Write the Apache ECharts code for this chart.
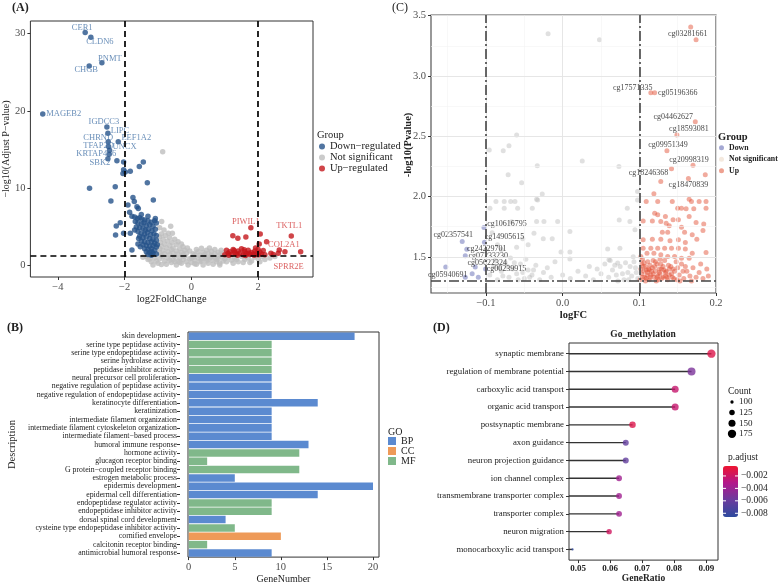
<!DOCTYPE html>
<html>
<head>
<meta charset="utf-8">
<script src="https://cdn.jsdelivr.net/npm/echarts@6/dist/echarts.min.js"></script>
<style>
html, body { margin: 0; padding: 0; background: #fff; }
#chart { width: 778px; height: 585px; }
</style>
</head>
<body>
<div id="chart"></div>
<script>
// ---------- (A) volcano: log2FoldChange vs -log10(adj p) ----------
const aNS = [[-0.86,14.7],[-0.89,5.7],[-0.62,5.1],[-0.95,4.9],[-0.82,4.6],[-0.69,4.2],[-0.57,4.2],[-0.9,4.1],[-0.78,3.9],[-0.95,3.7],
  [-0.65,3.6],[-0.5,3.4],[-0.85,3.4],[-0.72,3.2],[-0.4,3.1],[-0.58,3.0],[-0.93,3.0],[-0.3,2.8],[-0.8,2.8],[-0.45,2.7],
  [-0.65,2.6],[-0.25,2.45],[-0.9,2.5],[-0.55,2.3],[-0.12,2.3],[-0.75,2.3],[-0.35,2.2],[-0.95,2.2],[-0.6,2.05],[-0.2,2.0],
  [-0.85,1.95],[-0.45,1.9],[-0.05,1.9],[-0.7,1.8],[-0.3,1.75],[-0.95,1.7],[-0.55,1.65],[-0.15,1.6],[-0.8,1.55],[-0.4,1.5],
  [0.05,1.55],[-0.65,1.4],[-0.25,1.4],[-0.9,1.35],[0.3,2.24],[0.54,2.3],[0.89,2.0],[0.15,2.1],[0.45,2.0],[0.7,2.1],
  [0.6,1.85],[0.2,1.8],[0.35,1.7],[0.8,1.75],[0.95,1.6],[0.5,1.6],[0.1,1.45],[0.4,1.45],[0.7,1.5],[0.25,1.35],
  [0.85,1.4],[0.6,1.35],[-1.45,1.1],[-1.3,0.8],[-1.35,1.2],[-1.2,0.5],[-1.1,1.0],[-1.0,0.3],[-0.95,0.9],[-0.85,1.15],
  [-0.8,0.6],[-0.75,0.2],[-0.7,1.0],[-0.6,0.4],[-0.55,0.8],[-0.5,1.2],[-0.45,0.1],[-0.4,0.6],[-0.35,1.0],[-0.3,0.3],
  [-0.25,0.8],[-0.2,1.2],[-0.15,0.5],[-0.1,0.1],[-0.05,0.9],[0.0,0.4],[0.05,1.1],[0.1,0.7],[0.15,0.2],[0.2,1.0],
  [0.25,0.5],[0.3,0.9],[0.35,0.1],[0.4,1.2],[0.45,0.6],[0.5,0.3],[0.55,1.0],[0.6,0.7],[0.65,0.2],[0.7,1.1],
  [0.75,0.5],[0.8,0.9],[0.85,0.3],[0.9,1.2],[0.95,0.6],[1.0,0.9],[1.1,1.1],[1.2,0.7],[1.3,1.0],[1.4,0.5],
  [1.5,1.2],[1.6,0.8],[1.7,1.0],[1.8,0.6],[1.9,1.1],[2.0,0.9],[2.1,1.2],[2.2,0.8],[2.35,1.0],[2.5,1.2],
  [-1.15,0.1],[-0.9,0.15],[-0.65,0.7],[-0.35,0.45],[0.1,0.25],[0.3,0.6],[0.6,1.2],[0.85,0.1],[1.25,0.3],[1.55,0.4],
  [-1.25,0.9],[-1.05,0.6],[-0.5,0.5],[0.0,1.0],[0.45,0.9],[0.75,0.8],[1.05,0.5],[1.35,0.8],[1.75,0.4],[2.05,0.5]];
const aDown = [[-2.23,13.56],[-2.03,13.4],[-1.44,13.4],[-1.56,12.8],[-2.03,12.4],[-2.05,11.9],[-1.98,12.1],[-1.83,12.2],[-1.32,10.7],[-3.05,10.0],
  [-2.28,10.2],[-1.75,8.8],[-1.71,8.3],[-2.41,8.35],[-1.14,8.48],[-1.9,7.83],[-1.63,7.6],[-1.59,7.4],[-1.85,6.9],[-1.78,6.4],
  [-2.13,5.55],[-2.25,5.12],[-2.27,3.96],[-2.03,4.18],[-1.83,4.18],[-1.78,2.03],[-1.53,2.46],[-1.19,1.81],
  [-1.7,6.3],[-1.62,6.1],[-1.55,6.2],[-1.48,6.0],[-1.4,5.9],[-1.3,5.8],[-1.2,5.6],[-1.1,5.8],[-1.05,5.5],[-1.68,5.7],
  [-1.6,5.5],[-1.5,5.4],[-1.42,5.5],[-1.35,5.2],[-1.25,5.3],[-1.15,5.1],[-1.65,5.0],[-1.55,4.9],[-1.45,4.8],[-1.38,4.6],
  [-1.28,4.7],[-1.18,4.5],[-1.08,4.7],[-1.6,4.4],[-1.5,4.2],[-1.4,4.1],[-1.32,4.3],[-1.22,4.0],[-1.12,4.1],[-1.05,3.9],
  [-1.55,3.8],[-1.45,3.6],[-1.35,3.7],[-1.25,3.5],[-1.15,3.4],[-1.05,3.3],[-1.5,3.2],[-1.4,3.1],[-1.3,3.0],[-1.2,3.1],
  [-1.1,2.9],[-1.45,2.7],[-1.35,2.6],[-1.25,2.5],[-1.15,2.6],[-1.05,2.4],[-1.4,2.2],[-1.3,2.1],[-1.2,2.2],[-1.1,2.0],
  [-1.35,1.8],[-1.25,1.7],[-1.15,1.6],[-1.05,1.5],[-1.3,1.45],[-1.2,1.35],[-1.6,2.8],[-1.58,3.5],[-1.7,4.6],[-1.02,2.7],
  [-1.08,6.1],[-1.3,6.4],[-1.5,6.6]];
const aUp = [[1.24,3.87],[1.39,3.53],[1.78,4.9],[2.06,4.09],[2.03,2.8],[2.25,3.1],[2.38,1.6],[2.6,1.6],[2.63,2.03],[1.05,2.0],
  [1.1,1.6],[1.15,1.8],[1.2,1.45],[1.25,2.1],[1.3,1.7],[1.35,1.5],[1.4,1.9],[1.45,1.6],[1.5,2.2],[1.55,1.4],
  [1.6,1.8],[1.65,1.55],[1.7,2.0],[1.75,1.45],[1.8,1.7],[1.85,1.5],[1.9,1.9],[1.95,1.6],[2.0,1.4],[2.0,2.1],
  [2.05,1.75],[2.1,1.5],[2.15,1.95],[1.12,1.35],[1.38,1.35],[1.62,1.32],[1.88,1.35],[2.2,1.4],[2.45,1.45],[1.0,1.4],
  [1.28,1.95],[1.58,2.05],[1.72,1.6],[1.92,2.3]];
const aDownGenes = ['CER1','CLDN6','PNMT','CHGB','MAGEB2','IGDCC3','LIPC','CHRND','EEF1A2','TFAP2D','UNCX','KRTAP4\u22126','SBK2'];
const aDownGenePts = [[-3.18,30.1],[-3.01,29.5],[-2.68,26.2],[-3.06,25.8],[-4.45,19.6],[-2.53,17.9],[-2.5,17.1],[-2.49,16.0],[-2.19,16.0],[-2.48,15.4],[-2.45,14.9],[-2.46,14.4],[-2.5,13.8]];
const aUpGenes = ['PIWIL1','TKTL1','COL2A1','SPRR2E'];
const aUpGenePts = [[1.63,3.7],[2.99,3.83],[2.8,1.81],[3.27,1.81]];
const aXTicks = [-4, -2, 0, 2];
const aYTicks = [0, 10, 20, 30];

// ---------- (B) GO bars ----------
const bTerms = ['skin development','serine type peptidase activity','serine type endopeptidase activity','serine hydrolase activity',
  'peptidase inhibitor activity','neural precursor cell proliferation','negative regulation of peptidase activity',
  'negative regulation of endopeptidase activity','keratinocyte differentiation','keratinization','intermediate filament organization',
  'intermediate filament cytoskeleton organization','intermediate filament\u2212based process','humoral immune response','hormone activity',
  'glucagon receptor binding','G protein\u2212coupled receptor binding','estrogen metabolic process','epidermis development',
  'epidermal cell differentiation','endopeptidase regulator activity','endopeptidase inhibitor activity','dorsal spinal cord development',
  'cysteine type endopeptidase inhibitor activity','cornified envelope','calcitonin receptor binding','antimicrobial humoral response'];
const bGenes = [18,9,9,9,9,9,9,9,14,9,9,9,9,13,12,2,12,5,20,14,9,9,4,5,10,2,9];
const bGO = ['BP','MF','MF','MF','MF','BP','BP','BP','BP','BP','BP','BP','BP','BP','MF','MF','MF','BP','BP','BP','MF','MF','BP','MF','CC','MF','BP'];
const bXTicks = [0, 5, 10, 15, 20];

// ---------- (C) methylation volcano: logFC vs -log10(P) ----------
const cNS = [[-0.06,2.51],[-0.0957,2.386],[-0.0775,2.38],[-0.07,2.42],[-0.0331,2.256],[-0.0711,2.18],[-0.0535,2.115],[-0.0266,2.02],[-0.034,1.978],[-0.0622,1.958],
  [-0.0678,1.958],[-0.0762,1.958],[-0.087,1.958],[-0.0948,1.903],[-0.0762,1.903],[-0.0587,1.903],[-0.0396,1.903],[-0.0326,1.972],[-0.0244,1.792],[-0.034,1.792],
  [-0.0065,1.792],[-0.0374,1.696],[-0.0253,1.649],[-0.0136,1.649],[0.0095,1.71],[0.0256,2.295],[-0.0022,1.539],[0.0095,1.539],[0.0587,1.564],[0.0747,1.572],
  [0.0738,1.806],[0.0877,1.792],[0.0943,1.724],[0.0843,1.903],[0.0977,2.041],[0.0977,1.972],[0.0734,2.248],[0.0348,1.42],[0.0095,1.481],[0.0604,1.475],
  [0.0718,1.448],[-0.019,3.35],[0.048,3.30],[-0.0665,1.79],[-0.045,1.6],[-0.06,1.58],[-0.08,1.56],[-0.052,1.65],[-0.092,1.7],[-0.085,1.6],
  [-0.095,1.35],[-0.09,1.42],[-0.085,1.31],[-0.08,1.38],[-0.075,1.45],[-0.07,1.33],[-0.065,1.4],[-0.06,1.36],[-0.055,1.44],[-0.05,1.32],
  [-0.045,1.39],[-0.04,1.35],[-0.035,1.43],[-0.03,1.31],[-0.025,1.37],[-0.02,1.41],[-0.015,1.33],[-0.01,1.46],[0.0,1.35],[0.01,1.32],
  [0.02,1.38],[0.03,1.34],[0.04,1.31],[0.045,1.4],[0.05,1.36],[0.055,1.44],[0.06,1.33],[0.065,1.39],[0.07,1.35],[0.075,1.42],
  [0.08,1.31],[0.085,1.37],[0.09,1.34],[0.095,1.41],[0.098,1.32],[-0.088,1.47],[-0.068,1.49],[-0.048,1.48],[0.062,1.47],[0.082,1.45],
  [0.092,1.5],[-0.078,1.34],[-0.058,1.31],[-0.038,1.39],[0.072,1.3],[0.088,1.42],[0.096,1.37],[-0.072,1.42],[-0.052,1.37],[0.068,1.43],
  [0.078,1.36],[0.086,1.31],[0.093,1.46],[-0.083,1.41],[-0.063,1.45],[-0.043,1.33]];
const cDown = [[-0.127,1.33],[-0.11,1.33],[-0.118,1.36]];
const cUp = [[0.174,3.3],[0.186,2.18],[0.128,2.124],[0.119,2.022],[0.109,1.959],[0.124,1.959],[0.143,1.959],[0.165,1.978],[0.168,1.959],[0.178,1.959],
  [0.187,1.959],[0.15,1.903],[0.155,1.903],[0.161,1.898],[0.171,1.898],[0.187,1.903],[0.12,1.862],[0.124,1.848],[0.134,1.834],[0.105,1.798],
  [0.117,1.798],[0.128,1.793],[0.135,1.779],[0.144,1.807],[0.151,1.807],[0.139,1.757],[0.155,1.746],[0.165,1.834],[0.174,1.785],[0.184,1.773],
  [0.13,1.704],[0.137,1.704],[0.159,1.704],[0.183,1.718],[0.105,1.641],[0.117,1.646],[0.128,1.646],[0.14,1.633],[0.151,1.641],[0.16,1.619],
  [0.169,1.682],[0.175,1.646],[0.187,1.536],[0.105,1.572],[0.115,1.572],[0.124,1.572],[0.133,1.572],[0.142,1.572],[0.151,1.572],[0.16,1.564],
  [0.169,1.53],[0.11,1.53],[0.119,1.53],[0.128,1.517],[0.137,1.503],[0.146,1.503],[0.155,1.489],[0.165,1.489],[0.102,1.503],
  [0.101,1.31],[0.103,1.36],[0.105,1.42],[0.107,1.33],[0.109,1.39],[0.111,1.46],[0.113,1.31],[0.115,1.35],[0.117,1.41],[0.119,1.33],
  [0.121,1.38],[0.123,1.44],[0.125,1.31],[0.127,1.36],[0.129,1.4],[0.131,1.33],[0.133,1.47],[0.135,1.38],[0.137,1.31],[0.139,1.35],
  [0.141,1.42],[0.143,1.33],[0.146,1.38],[0.149,1.31],[0.152,1.35],[0.155,1.44],[0.158,1.32],[0.162,1.38],[0.166,1.34],[0.17,1.41],
  [0.174,1.33],[0.178,1.37],[0.183,1.32],[0.188,1.4],[0.104,1.48],[0.112,1.4],[0.118,1.47],[0.124,1.34],[0.128,1.44],[0.134,1.34],
  [0.108,1.3],[0.116,1.38],[0.122,1.3],[0.132,1.39],[0.106,1.45],[0.114,1.43],[0.102,1.4],[0.11,1.35],[0.126,1.4],[0.138,1.43],
  [0.144,1.4],[0.148,1.46],[0.16,1.42],[0.168,1.3],[0.18,1.44],[0.19,1.34],[0.104,1.33],[0.106,1.38],[0.109,1.32],[0.111,1.37],
  [0.114,1.33],[0.118,1.36],[0.12,1.42],[0.123,1.33],[0.126,1.37],[0.129,1.32],[0.131,1.42],[0.134,1.37],[0.136,1.33],[0.139,1.4],
  [0.142,1.36],[0.145,1.32],[0.15,1.41],[0.153,1.3],[0.157,1.38],[0.103,1.44],[0.108,1.42],[0.113,1.39],[0.121,1.46],[0.127,1.48]];
const cDownIds = ['cg10616795','cg02357541','cg14905615','cg24229701','cg07233230','cg05622324','cg00239915','cg05940691'];
const cDownIdPts = [[-0.1026,1.743],[-0.131,1.627],[-0.102,1.62],[-0.125,1.563],[-0.127,1.508],[-0.114,1.415],[-0.1005,1.398],[-0.1525,1.415]];
const cUpIds = ['cg03281661','cg17571335','cg05196366','cg04462627','cg18593081','cg09951349','cg20998319','cg18246368','cg18470839'];
const cUpIdPts = [[0.167,3.406],[0.115,2.86],[0.12,2.86],[0.173,2.62],[0.149,2.51],[0.136,2.38],[0.17,2.26],[0.142,2.23],[0.164,2.15]];
const cXTicks = [-0.1, 0, 0.1, 0.2];
const cYTicks = [1.5, 2.0, 2.5, 3.0, 3.5];

// ---------- (D) Go_methylation lollipop ----------
const dTerms = ['synaptic membrane','regulation of membrane potential','carboxylic acid transport','organic acid transport',
  'postsynaptic membrane','axon guidance','neuron projection guidance','ion channel complex',
  'transmembrane transporter complex','transporter complex','neuron migration','monocarboxylic acid transport'];
const dRatio = [0.0916,0.0854,0.0803,0.0803,0.067,0.0649,0.0649,0.0628,0.0628,0.0628,0.0597,0.0483];
const dCount = [176,168,150,150,140,132,132,130,130,130,124,92];
const dPadj = [-0.0012,-0.0052,-0.0022,-0.0022,-0.0012,-0.0062,-0.0062,-0.0038,-0.0038,-0.0038,-0.0018,-0.0085];
const dXTicks = [0.05, 0.06, 0.07, 0.08, 0.09];
const countBreaks = [100, 125, 150, 175];
const padjBreaks = [-0.002, -0.004, -0.006, -0.008];

// ---------- layout / style ----------
const serif = '"Liberation Serif", "DejaVu Serif", serif';
const minus = s => String(s).replace('-', '\u2212');
const aBlue = '#26528A', aRed = '#C4161C', aGrey = '#BEBEBE';
const cDownCol = 'rgba(74,85,168,0.55)', cNSCol = 'rgba(185,185,185,0.55)', cUpCol = 'rgba(226,80,52,0.6)';
const goColor = { BP: '#5B8AD0', CC: '#EE9A58', MF: '#80B88A' };
const dRange = [0.04719, 0.09366];
const padjMin = -0.0086, padjMax = -0.0004;
const cbar = { left: 723, top: 466, w: 15, h: 51 };
const dotSize = c => Math.sqrt(Math.max(1, 11 + 0.773 * (c - 100)));

const aShift = { CER1: [-3, -5], CLDN6: [9, 5], PNMT: [8, -4], CHGB: [-3, 4], MAGEB2: [21, 0], IGDCC3: [-3, -5],
  LIPC: [12, -3], CHRND: [-10, -4], EEF1A2: [18, -4], TFAP2D: [-10, -1], UNCX: [15, -4], 'KRTAP4\u22126': [-13, 0], SBK2: [-8, 4],
  PIWIL1: [0, -15], TKTL1: [-2, -10], COL2A1: [-1, -7], SPRR2E: [-12, 15] };
const cShift = { cg10616795: [23, -4], cg02357541: [-9, -7], cg14905615: [20, -5], cg24229701: [20, 0], cg07233230: [23, 0],
  cg05622324: [12, -4], cg00239915: [21, 0], cg05940691: [2, 8], cg03281661: [-3, 7], cg17571335: [-18, -5],
  cg05196366: [23, 0], cg04462627: [-22, -5], cg18593081: [12, -6], cg09951349: [1, -6], cg20998319: [-4, -5],
  cg18246368: [-23, 4], cg18470839: [0, 6] };

function labelled(names, pts, shift, color, size) {
  return names.map((n, i) => ({
    name: n, value: pts[i],
    label: { show: true, formatter: '{b}', position: 'inside', offset: shift[n], color: color, fontSize: size, fontFamily: serif }
  }));
}

function valAxis(grid, min, max, ticks, fmt, lab) {
  return Object.assign({
    type: 'value', gridIndex: grid, min: min, max: max,
    axisLine: { show: false, onZero: false },
    axisTick: { show: true, length: 3, customValues: ticks, lineStyle: { color: '#333', width: 1 } },
    axisLabel: { customValues: ticks, formatter: fmt, color: '#4D4D4D', fontSize: 10.5, fontFamily: serif, margin: 5 },
    splitLine: { show: false }
  }, lab || {});
}

const nameStyle = { fontFamily: serif, fontSize: 10.5, color: '#222' };
const boldName = { fontFamily: serif, fontSize: 10.5, color: '#222', fontWeight: 'bold' };

const mkLine = (xs, ys, style) => ({
  silent: true, symbol: ['none', 'none'], label: { show: false }, animation: false,
  lineStyle: style,
  data: xs.map(v => ({ xAxis: v })).concat(ys.map(v => ({ yAxis: v })))
});

const cMinorX = cXTicks.slice(0, -1).map((v, i) => (v + cXTicks[i + 1]) / 2).concat([-0.15]);
const cMinorY = cYTicks.slice(0, -1).map((v, i) => (v + cYTicks[i + 1]) / 2).concat([1.25]);

const txt = (x, y, text, font, align, extra) => Object.assign({
  type: 'text', x: x, y: y, silent: true,
  style: { text: text, font: font, fill: '#222', textAlign: align || 'left', textVerticalAlign: 'middle' }
}, extra || {});

const graphics = [
  txt(12, 8, '(A)', 'bold 12px ' + serif),
  txt(392, 8, '(C)', '12px ' + serif),
  txt(7, 328, '(B)', 'bold 12px ' + serif),
  txt(433, 328, '(D)', 'bold 12px ' + serif),
  txt(317, 135, 'Group', '10.5px ' + serif),
  txt(718, 137, 'Group', 'bold 10.5px ' + serif),
  txt(388, 432, 'GO', '10px ' + serif),
  txt(728, 391, 'Count', '9.5px ' + serif),
  txt(728, 457, 'p.adjust', '9.5px ' + serif),
  txt(643, 335, 'Go_methylation', 'bold 9.5px ' + serif, 'center'),
  txt(408, 145, '-log10(Pvalue)', 'bold 10.5px ' + serif, 'center', { rotation: Math.PI / 2 })
];
countBreaks.forEach((c, i) => {
  const y = 402 + i * 10.6;
  graphics.push({ type: 'circle', silent: true, shape: { cx: 732, cy: y, r: dotSize(c) / 2 }, style: { fill: '#000' } });
  graphics.push(txt(739, y, String(c), '9px ' + serif));
});
padjBreaks.forEach(v => {
  const y = cbar.top + (padjMax - v) / (padjMax - padjMin) * cbar.h;
  graphics.push({ type: 'line', silent: true, z: 100, shape: { x1: cbar.left, y1: y, x2: cbar.left + 3, y2: y }, style: { stroke: '#fff', lineWidth: 1 } });
  graphics.push({ type: 'line', silent: true, z: 100, shape: { x1: cbar.left + cbar.w - 3, y1: y, x2: cbar.left + cbar.w, y2: y }, style: { stroke: '#fff', lineWidth: 1 } });
  graphics.push(txt(cbar.left + cbar.w + 3, y, minus(v.toFixed(3)), '9.5px ' + serif));
});

const legendBase = { orient: 'vertical', selectedMode: false, padding: 0, itemGap: 0 };

const option = {
  animation: false,
  backgroundColor: '#fff',
  textStyle: { fontFamily: serif },
  grid: [
    { left: 28, top: 21, width: 285, height: 256, show: true, borderColor: '#333', borderWidth: 1 },
    { left: 431, top: 15, width: 285, height: 278, show: true, borderColor: '#555', borderWidth: 1.2 },
    { left: 188, top: 332, width: 191, height: 230, show: true, borderColor: '#333', borderWidth: 1 },
    { left: 569, top: 343, width: 149, height: 218, show: true, borderColor: '#333', borderWidth: 1 }
  ],
  xAxis: [
    valAxis(0, -4.82, 3.64, aXTicks, v => minus(v), { name: 'log2FoldChange', nameLocation: 'middle', nameGap: 17, nameTextStyle: nameStyle }),
    valAxis(1, -0.1717, 0.2, cXTicks, v => minus(v.toFixed(1)), { name: 'logFC', nameLocation: 'middle', nameGap: 16, nameTextStyle: boldName }),
    valAxis(2, -0.08, 20.65, bXTicks, v => String(v), { name: 'GeneNumber', nameLocation: 'middle', nameGap: 14, nameTextStyle: { fontFamily: serif, fontSize: 10, color: '#222' } }),
    valAxis(3, dRange[0], dRange[1], dXTicks, v => v.toFixed(2), {
      axisLabel: { customValues: dXTicks, formatter: v => v.toFixed(2), color: '#222', fontSize: 9, fontWeight: 'bold', fontFamily: serif, margin: 4 },
      name: 'GeneRatio', nameLocation: 'middle', nameGap: 13, nameTextStyle: { fontFamily: serif, fontSize: 9.5, color: '#222', fontWeight: 'bold' }
    })
  ],
  yAxis: [
    valAxis(0, -1.46, 31.6, aYTicks, v => String(v), { name: '\u2212log10(Adjust P\u2212value)', nameLocation: 'middle', nameGap: 15, nameTextStyle: { fontFamily: serif, fontSize: 10, color: '#222' } }),
    valAxis(1, 1.2, 3.505, cYTicks, v => v.toFixed(1)),
    {
      type: 'category', gridIndex: 2, data: bTerms, inverse: true, offset: 8,
      axisLine: { show: false, onZero: false },
      axisTick: { show: true, length: 3, alignWithLabel: true, interval: 0, lineStyle: { color: '#333' } },
      axisLabel: { interval: 0, fontSize: 7.8, color: '#222', fontFamily: serif, margin: 3 },
      name: 'Description', nameLocation: 'middle', nameGap: 162, nameTextStyle: { fontFamily: serif, fontSize: 10.5, color: '#222' }
    },
    valAxis(3, -0.6, 11.6, dTerms.map((t, i) => i), v => dTerms[Math.round(v)], {
      inverse: true,
      axisLabel: { customValues: dTerms.map((t, i) => i), formatter: v => dTerms[Math.round(v)], color: '#222', fontSize: 8.8, fontFamily: serif, margin: 5 }
    })
  ],
  visualMap: {
    type: 'continuous', seriesIndex: 14, dimension: 2, min: padjMin, max: padjMax,
    inRange: { color: ['#2D4A9E', '#6A3C9E', '#B2178C', '#EE1530'] },
    left: cbar.left, top: cbar.top, itemWidth: cbar.w, itemHeight: cbar.h, padding: 0,
    calculable: false, text: null, showLabel: false, hoverLink: false, textStyle: { fontSize: 1, color: 'transparent' }
  },
  legend: [
    Object.assign({}, legendBase, {
      left: 319, top: 141, itemWidth: 6, itemHeight: 6,
      textStyle: { fontFamily: serif, fontSize: 10.5, color: '#222', lineHeight: 9 },
      data: [
        { name: 'Down\u2212regulated', icon: 'circle', itemStyle: { color: aBlue } },
        { name: 'Not significant', icon: 'circle', itemStyle: { color: aGrey } },
        { name: 'Up\u2212regulated', icon: 'circle', itemStyle: { color: aRed } }
      ]
    }),
    Object.assign({}, legendBase, {
      left: 719, top: 142, itemWidth: 5, itemHeight: 5,
      textStyle: { fontFamily: serif, fontSize: 7.8, color: '#222', fontWeight: 'bold', lineHeight: 11.5 },
      data: [
        { name: 'Down', icon: 'circle', itemStyle: { color: '#8D92C8' } },
        { name: 'Not significant', icon: 'circle', itemStyle: { color: '#F1E4D6' } },
        { name: 'Up', icon: 'circle', itemStyle: { color: '#EA8A74' } }
      ]
    }),
    Object.assign({}, legendBase, {
      left: 388, top: 436, itemWidth: 8, itemHeight: 8,
      textStyle: { fontFamily: serif, fontSize: 10, color: '#222', lineHeight: 9.5 },
      data: ['BP', 'CC', 'MF'].map(g => ({ name: g, icon: 'rect', itemStyle: { color: goColor[g] } }))
    })
  ],
  graphic: graphics,
  series: [
    // 0-3: panel A
    { type: 'scatter', name: 'Not significant', xAxisIndex: 0, yAxisIndex: 0, data: aNS, symbolSize: 5.5, itemStyle: { color: aGrey }, silent: true },
    { type: 'scatter', name: 'Down\u2212regulated', xAxisIndex: 0, yAxisIndex: 0, symbolSize: 5.5, itemStyle: { color: aBlue }, silent: true,
      data: aDown.concat(labelled(aDownGenes, aDownGenePts, aShift, '#4573A8', 8.5)) },
    { type: 'scatter', name: 'Up\u2212regulated', xAxisIndex: 0, yAxisIndex: 0, symbolSize: 5.5, itemStyle: { color: aRed }, silent: true,
      data: aUp.concat(labelled(aUpGenes, aUpGenePts, aShift, '#D23A3A', 8.5)) },
    { type: 'scatter', name: 'aCut', xAxisIndex: 0, yAxisIndex: 0, data: [], z: 5,
      markLine: mkLine([-2, 2], [1.3], { color: '#000', width: 1.7, type: [6, 4] }) },
    // 4-9: panel C
    { type: 'scatter', name: 'cGrid', xAxisIndex: 1, yAxisIndex: 1, data: [], z: 1,
      markLine: mkLine(cMinorX, cMinorY, { color: '#F3F3F3', width: 0.6, type: 'solid' }) },
    { type: 'scatter', name: 'cGrid2', xAxisIndex: 1, yAxisIndex: 1, data: [], z: 1,
      markLine: mkLine(cXTicks, cYTicks, { color: '#E3E3E3', width: 0.9, type: 'solid' }) },
    { type: 'scatter', name: 'Not significant', xAxisIndex: 1, yAxisIndex: 1, data: cNS, symbolSize: 5, itemStyle: { color: cNSCol }, silent: true },
    { type: 'scatter', name: 'Down', xAxisIndex: 1, yAxisIndex: 1, symbolSize: 5, itemStyle: { color: cDownCol }, silent: true,
      data: cDown.concat(labelled(cDownIds, cDownIdPts, cShift, '#111', 8)) },
    { type: 'scatter', name: 'Up', xAxisIndex: 1, yAxisIndex: 1, symbolSize: 5, itemStyle: { color: cUpCol }, silent: true,
      data: cUp.concat(labelled(cUpIds, cUpIdPts, cShift, '#111', 8)) },
    { type: 'scatter', name: 'cCut', xAxisIndex: 1, yAxisIndex: 1, data: [], z: 5,
      markLine: mkLine([-0.1, 0.1], [1.3], { color: '#444', width: 1.6, type: [10, 3, 2, 3] }) }
    // 10-12: panel B
  ].concat(['BP', 'CC', 'MF'].map(g => ({
    type: 'bar', name: g, xAxisIndex: 2, yAxisIndex: 2, stack: 'go', barCategoryGap: '10%', silent: true,
    itemStyle: { color: goColor[g] },
    data: bGenes.map((v, i) => bGO[i] === g ? v : '-')
  }))).concat([
    // 13-14: panel D
    { type: 'custom', name: 'stem', xAxisIndex: 3, yAxisIndex: 3, silent: true, z: 2,
      data: dRatio.map((r, i) => [r, i]),
      renderItem: (params, api) => {
        const a = api.coord([dRange[0], api.value(1)]);
        const b = api.coord([api.value(0), api.value(1)]);
        return { type: 'line', shape: { x1: a[0], y1: a[1], x2: b[0], y2: b[1] }, style: { stroke: '#333', lineWidth: 1.4 } };
      } },
    { type: 'scatter', name: 'dots', xAxisIndex: 3, yAxisIndex: 3, z: 3, silent: true,
      data: dRatio.map((r, i) => [r, i, dPadj[i], dCount[i]]),
      symbolSize: v => dotSize(v[3]) }
  ])
};

const chart = echarts.init(document.getElementById('chart'), null, { renderer: 'canvas' });
chart.setOption(option);
</script>
</body>
</html>
